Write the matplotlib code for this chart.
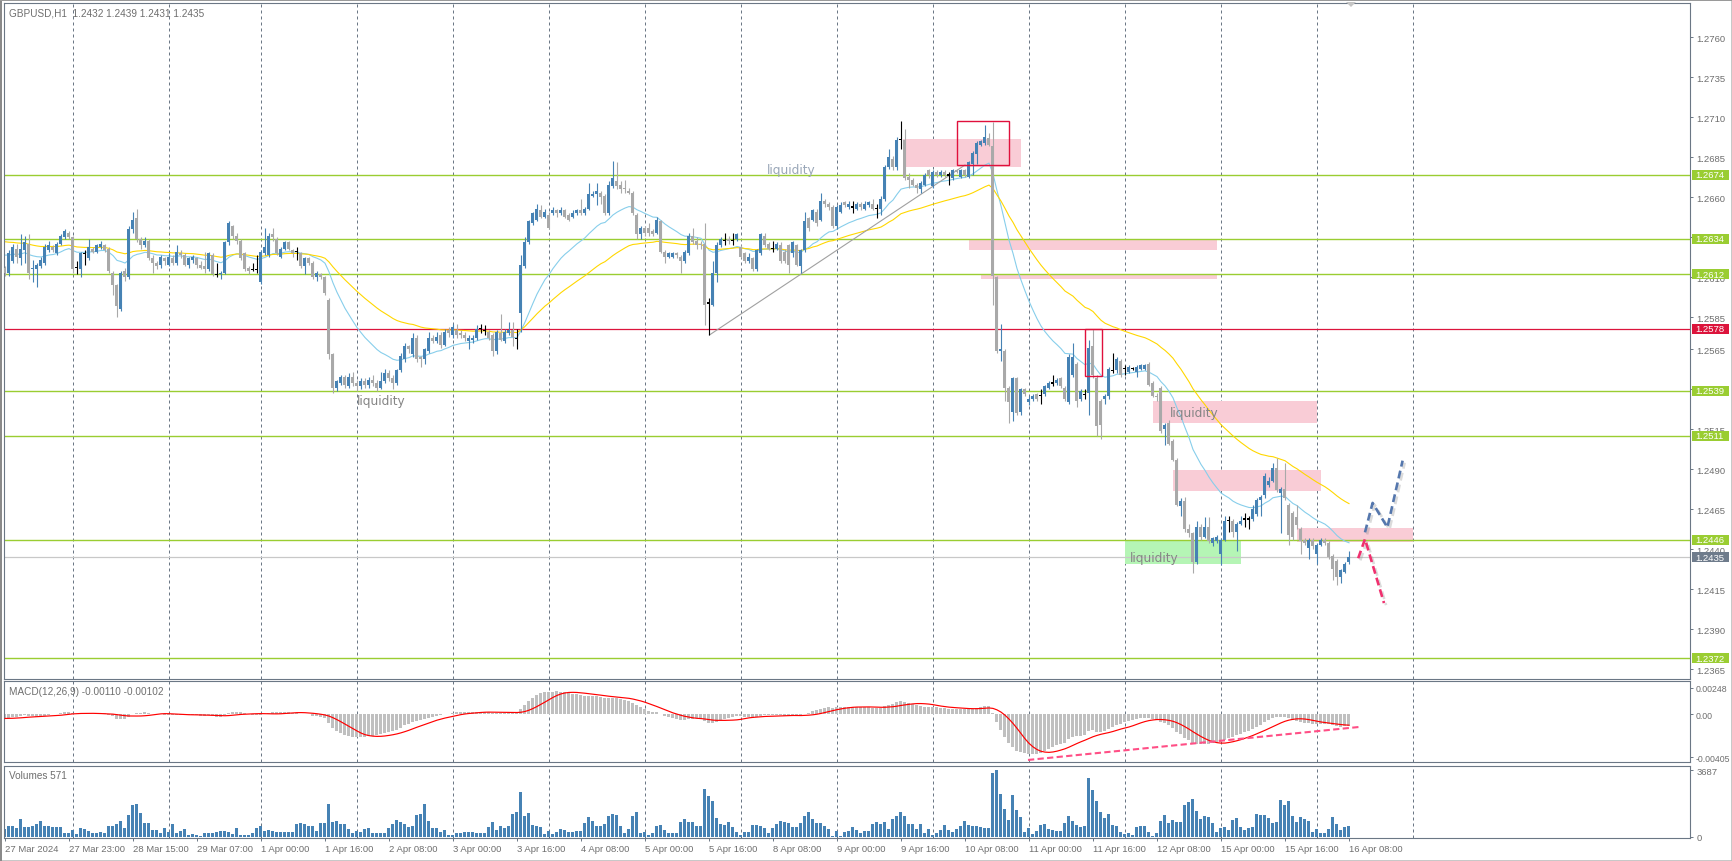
import numpy as np
import matplotlib
matplotlib.use("Agg")
import matplotlib.pyplot as plt
import matplotlib.transforms as mtransforms
from matplotlib.patches import Rectangle, Polygon
import matplotlib.patheffects as pe

plt.rcParams['font.family'] = ['Liberation Sans', 'DejaVu Sans']

W, H = 1733, 862
BASE = 1.2400
PIP = 0.0001
FS = 6.8

# ---------------- data (pips above 1.2400), one H1 bar per entry ----------------
open_pips = [
    216,213,220,228,222,227,231,215,215,217, 219,227,229,225,231,235,238,235,216,215,
    225,222,228,226,229,230,228,213,205,190, 214,210,240,247,234,230,233,222,219,218,
    222,218,222,219,225,224,218,221,222,218, 217,215,224,212,212,213,232,242,236,233,
    225,216,215,215,207,225,224,237,234,223, 228,232,227,226,225,217,222,219,210,212,
    210,196,162,141,144,148,142,148,144,142, 145,143,146,144,141,145,150,147,144,152,
    159,167,162,172,160,159,164,172,170,174, 168,177,174,177,175,174,170,171,172,178,
    177,176,174,164,175,170,175,177,172,188, 217,232,244,246,252,248,249,250,252,250,
    252,249,248,250,252,250,253,261,262,263, 261,250,267,270,268,266,264,263,249,237,
    241,241,239,238,245,226,223,223,225,223, 220,225,236,233,231,231,194,193,213,230,
    233,234,233,234,229,225,220,222,215,225, 236,231,228,228,230,226,230,225,230,217,
    227,247,246,251,246,258,256,254,242,251, 257,254,254,253,256,253,255,256,253,253,
    259,279,284,279,296,296,273,271,268,265, 268,277,267,276,274,276,274,272,277,273,
    277,273,281,287,293,294,297,292,210,164, 164,141,126,147,126,140,132,134,137,136,
    137,141,144,144,147,141,132,149,156,134, 137,138,167,147,133,134,136,152,152,158,
    153,151,153,151,153,153,156,144,136,141, 115,119,108,96,67,70,53,50,32,54,
    48,54,44,45,37,46,58,58,51,56, 59,59,59,62,71,74,80,83,91,75,
    78,68,63,60,53,46,41,46,37,43, 46,44,36,33,23,26,32]

high_pips = [
    217,227,231,231,237,236,237,221,219,223, 231,233,230,232,237,240,239,236,220,226,
    227,234,229,231,233,231,229,214,206,214, 216,242,251,253,235,235,234,224,220,224,
    223,225,224,230,227,225,223,224,223,220, 226,226,225,219,214,233,245,243,238,234,
    226,217,219,224,227,241,238,241,235,229, 233,233,228,229,226,223,223,220,214,213,
    211,197,163,146,149,149,150,151,146,147, 147,148,149,146,151,153,152,149,153,163,
    169,168,175,174,161,166,176,174,176,176, 178,179,181,181,177,176,174,174,180,181,
    180,177,175,177,187,178,182,182,178,224, 235,246,251,256,255,253,251,254,253,254,
    253,250,252,253,259,254,269,264,269,264, 262,270,283,282,270,271,266,264,250,242,
    242,244,240,248,246,227,226,226,226,224, 227,238,241,235,233,244,197,220,232,235,
    238,236,238,238,230,226,225,223,228,238, 238,232,233,232,232,228,231,233,231,228,
    251,248,253,253,263,259,257,255,255,257, 258,258,258,257,257,258,258,259,256,261,
    280,290,286,298,308,303,275,272,269,270, 275,278,277,277,277,277,276,278,278,278,
    278,283,289,295,296,305,300,307,211,181, 165,142,148,148,141,141,136,137,138,140,
    143,145,149,147,148,142,162,169,157,140, 140,171,178,149,134,137,154,163,160,159,
    155,155,154,155,156,156,157,145,138,142, 119,121,109,97,72,73,56,51,58,56,
    60,60,48,49,47,61,61,59,57,61, 63,61,68,72,74,88,85,94,97,79,
    94,69,64,68,54,47,47,47,44,47, 47,45,37,34,28,32,39]

low_pips = [
    211,211,219,219,218,219,209,207,204,216, 218,226,226,224,230,234,234,213,212,210,
    218,221,225,225,228,226,213,199,185,189, 208,209,238,232,228,229,221,213,215,216,
    218,217,218,218,222,217,216,219,216,215, 213,214,211,210,209,212,230,234,231,221,
    214,212,214,213,206,224,223,233,224,222, 227,227,223,221,216,212,218,209,208,209,
    199,159,138,139,143,141,141,142,139,140, 141,141,142,139,140,144,145,140,143,151,
    157,163,160,157,154,156,163,169,169,166, 167,173,172,172,172,170,165,169,171,175,
    174,171,161,162,170,169,174,167,165,176, 216,231,243,245,247,247,240,249,248,249,
    247,245,247,249,249,249,252,260,255,256, 249,249,266,265,263,263,262,249,234,234,
    236,236,236,237,225,219,222,222,222,213, 219,224,231,228,228,180,174,192,207,229,
    230,231,230,233,222,219,219,214,214,224, 229,227,226,227,219,219,213,223,217,213,
    226,239,245,242,245,254,252,241,240,250, 254,253,250,252,252,252,254,252,247,249,
    258,278,277,277,290,271,266,267,263,263, 267,272,266,273,273,273,268,271,275,272,
    273,272,274,281,292,293,292,193,163,158, 133,119,120,124,124,136,130,133,133,131,
    136,140,142,143,141,133,131,148,129,133, 134,124,147,111,109,131,134,150,150,148,
    149,150,152,148,152,152,142,135,133,113, 105,105,95,67,61,51,48,25,31,46,
    47,44,42,44,30,45,51,48,39,55, 54,53,58,61,61,72,79,82,76,50,
    71,43,46,53,37,43,34,40,31,42, 43,34,21,18,19,25,31]

close_pips = [
    213,225,229,223,228,232,213,216,218,221, 229,230,227,231,236,239,235,215,216,225,
    225,229,226,230,231,227,214,205,192,213, 210,240,246,234,230,233,222,219,217,223,
    220,223,219,226,224,218,222,223,218,216, 215,225,212,212,213,232,244,236,233,222,
    215,214,215,215,226,229,236,235,225,228, 232,228,225,226,217,222,219,210,213,210,
    200,162,141,145,148,143,148,144,142,145, 143,146,144,141,145,150,147,144,152,161,
    167,165,172,159,159,165,172,170,173,168, 176,175,179,174,174,172,172,172,178,178,
    177,172,164,176,171,176,177,173,172,218, 232,245,250,253,248,251,241,252,250,252,
    248,246,250,252,250,253,262,262,264,260, 250,268,272,267,265,265,263,250,237,241,
    238,238,237,246,226,223,225,225,224,220, 226,236,232,230,230,193,194,213,230,234,
    233,233,233,237,223,220,223,215,227,237, 230,228,228,231,220,220,218,232,218,227,
    245,241,252,244,258,256,254,242,254,255, 255,256,254,256,254,256,257,253,253,259,
    279,285,279,296,296,272,271,268,266,269, 274,274,276,274,276,274,274,277,276,277,
    274,282,288,294,295,298,293,211,164,165, 141,132,147,125,140,137,134,136,134,136,
    142,144,144,146,142,134,160,160,133,139, 137,166,149,117,118,136,153,152,159,149,
    153,154,153,154,155,155,143,136,135,114, 118,106,96,68,70,53,50,32,54,48,
    54,45,47,48,46,58,58,51,56,58, 59,59,65,71,73,86,83,91,77,78,
    72,49,48,55,45,44,46,42,43,46, 44,35,28,23,27,31,35]

volumes = [
    410,605,605,449,995,546,546,605,702,839, 605,566,507,546,546,176,215,351,117,468,
    410,312,215,176,254,215,605,605,683,839, 468,1190,1736,1775,1287,761,761,351,351,176,
    468,273,702,176,312,410,78,117,78,40, 215,215,215,273,312,312,254,117,468,78,
    78,78,215,468,566,312,371,312,254,254, 254,254,254,702,761,702,605,605,312,761,
    741,1814,800,839,702,702,410,215,312,254, 410,468,215,215,215,215,468,702,897,800,
    702,546,566,1190,1248,1775,839,468,468,254, 371,78,98,215,215,273,273,254,215,176,
    215,552,791,368,570,478,589,1251,1343,2466, 1122,1306,644,607,552,147,294,147,239,423,
    368,276,239,331,331,754,1067,846,589,589, 699,1141,1251,1196,589,202,423,1122,1343,202,
    239,92,202,589,644,368,202,202,202,791, 975,791,791,589,589,2631,2245,1987,1030,699,
    644,791,552,239,92,239,239,644,644,589, 478,221,460,699,846,791,754,552,552,754,
    1141,1380,994,754,754,607,442,55,313,55, 276,313,515,368,221,313,331,699,810,699,
    810,442,975,1159,1362,1159,699,699,405,699, 184,405,74,202,386,644,368,258,442,607,
    865,644,589,570,515,478,478,3514,3687,2355, 1527,920,2300,1472,1086,258,478,147,313,644,
    699,423,350,313,313,754,1141,865,644,552, 589,3238,2576,1969,1362,1030,1251,644,570,258,
    147,202,92,552,589,589,258,37,202,865, 1196,754,920,810,810,1748,1914,2079,1417,975,
    1141,1086,754,258,478,534,368,920,1030,534, 368,478,534,1251,1196,1196,1030,754,810,2024,
    1748,1969,1141,810,1086,975,865,258,423,202, 202,423,1086,699,368,534,571]

ema20_start, ema50_start = 225, 233
ema12_start, ema26_start = 221, 225
macd_prehistory = -0.0004

# x-axis labels (every 16 bars) and day-start grid lines (bar index)
label_idx = list(range(0, 337, 16))
date_labels = ["27 Mar 2024", "27 Mar 23:00", "28 Mar 15:00", "29 Mar 07:00", "1 Apr 00:00",
               "1 Apr 16:00", "2 Apr 08:00", "3 Apr 00:00", "3 Apr 16:00", "4 Apr 08:00",
               "5 Apr 00:00", "5 Apr 16:00", "8 Apr 08:00", "9 Apr 00:00", "9 Apr 16:00",
               "10 Apr 08:00", "11 Apr 00:00", "11 Apr 16:00", "12 Apr 08:00", "15 Apr 00:00",
               "15 Apr 16:00", "16 Apr 08:00"]
day_starts = [17, 41, 64, 88, 112, 136, 160, 184, 208, 232, 256, 280, 304, 328, 352]

price_ticks = [1.2760, 1.2735, 1.2710, 1.2685, 1.2660, 1.2635, 1.2610, 1.2585, 1.2565,
               1.2540, 1.2515, 1.2490, 1.2465, 1.2440, 1.2415, 1.2390, 1.2365]
green_levels = [1.2674, 1.2634, 1.2612, 1.2539, 1.2511, 1.2446, 1.2372]
red_level = 1.2578
current_price = 1.2435
macd_ticks = [0.00248, 0.0, -0.00405]
macd_ticklabels = ["0.00248", "0.00", "-0.00405"]
vol_ticks = [3687, 0]

# zones: (bar from, bar to, price low, price high)
pink_zones = [(224.5, 254.0, 1.267894, 1.269644),
              (241.0, 302.9, 1.262725, 1.263375),
              (244.0, 302.9, 1.260894, 1.261188),
              (287.1, 327.9, 1.251894, 1.253269),
              (292.0, 328.9, 1.247644, 1.248956),
              (323.0, 352.1, 1.244438, 1.245331)]
green_zone = (280.1, 308.9, 1.243081, 1.244500)
red_boxes = [(238.1, 251.1, 1.268000, 1.270750),
             (270.1, 274.2, 1.254850, 1.257769)]
trend_x, trend_y = [176.1, 240.0], [1.257394, 1.268019]
proj_up_x, proj_up_y = [340.0, 341.9, 345.6, 349.4], [1.24506, 1.24690, 1.24537, 1.24954]
proj_dn_x, proj_dn_y = [338.3, 340.0, 344.75], [1.24344, 1.24464, 1.24064]
macd_div_x, macd_div_y = [255.75, 338.5], [-0.00433, -0.00121]
liq_labels = [(190.4, 1.26771, '#9aa7b8'), (88.0, 1.25333, '#858585'),
              (291.3, 1.25256, '#858585'), (281.3, 1.24346, '#858585')]

# ---------------- derived series ----------------
n = min(len(open_pips), len(high_pips), len(low_pips), len(close_pips), len(volumes))
idx = np.arange(n)
O = BASE + np.array(open_pips[:n]) * PIP
Hh = BASE + np.array(high_pips[:n]) * PIP
L = BASE + np.array(low_pips[:n]) * PIP
C = BASE + np.array(close_pips[:n]) * PIP
V = np.array(volumes[:n], dtype=float)


def ema(vals, period, start):
    k = 2.0 / (period + 1)
    e = start
    out = []
    for v in vals:
        e = e + k * (v - e)
        out.append(e)
    return np.array(out)


ema20 = ema(C, 20, BASE + ema20_start * PIP)
ema50 = ema(C, 50, BASE + ema50_start * PIP)
macd = ema(C, 12, BASE + ema12_start * PIP) - ema(C, 26, BASE + ema26_start * PIP)
padded = np.concatenate([np.full(8, macd_prehistory), macd])
signal = np.convolve(padded, np.ones(9) / 9.0, mode='valid')

# ---------------- figure ----------------
fig = plt.figure(figsize=(W / 100, H / 100), dpi=100)
fig.patch.set_facecolor('white')


def rect_px(top, bottom, left=4, right=1690):
    return [left / W, 1 - bottom / H, (right - left) / W, (bottom - top) / H]


ax = fig.add_axes(rect_px(4, 680))
axm = fig.add_axes(rect_px(682, 763))
axv = fig.add_axes(rect_px(767, 839))

FRAME = '#6b7785'
TXT = '#6e6e6e'
BULL = '#4682B4'
BEAR = '#A9A9A9'
XMIN, XMAX = -0.25, 421.25

for a in (ax, axm, axv):
    a.set_facecolor('white')
    for s in a.spines.values():
        s.set_color(FRAME)
        s.set_linewidth(0.8)
    for d in day_starts:
        a.axvline(d, color=FRAME, lw=0.72, ls=(0, (3, 3)), zorder=0.5)
    a.tick_params(axis='x', which='both', bottom=False, top=False, labelbottom=False)
    a.yaxis.tick_right()
    a.tick_params(axis='y', direction='out', length=2.5, width=0.7, color=FRAME,
                  labelsize=FS, labelcolor=TXT, pad=2.3)

# zones
for x0, x1, p0, p1 in pink_zones:
    ax.add_patch(Rectangle((x0, p0), x1 - x0, p1 - p0, fc='#F9CCD6', ec='none', zorder=0.8))
gx0, gx1, gp0, gp1 = green_zone
ax.add_patch(Rectangle((gx0, gp0), gx1 - gx0, gp1 - gp0, fc='#B5F5B5', ec='none', zorder=0.8))

# horizontal levels
for lv in green_levels:
    ax.axhline(lv, color='#9ACD32', lw=1.0, zorder=1)
ax.axhline(red_level, color='#DC143C', lw=0.9, zorder=1)
ax.axhline(current_price, color='#C8C8C8', lw=0.9, zorder=1)

# moving averages
ax.plot(idx, ema20, color='#87CEEB', lw=0.8, zorder=2)
ax.plot(idx, ema50, color='#FFD700', lw=0.8, zorder=2)
ax.plot(trend_x, trend_y, color='#A0A0A0', lw=0.8, zorder=2)

# candles
cols = np.where(C > O, BULL, np.where(C < O, BEAR, '#000000'))
min_h = 1.2 / 16000
heights = np.maximum(np.abs(C - O), min_h)
bottoms = np.where(C == O, O - min_h / 2, np.minimum(O, C))
ax.vlines(idx, L, Hh, colors=cols, lw=0.8, zorder=3)
ax.bar(idx, heights, bottom=bottoms, width=0.75, color=cols, lw=0, zorder=3.1)

# red outline boxes
for x0, x1, p0, p1 in red_boxes:
    ax.add_patch(Rectangle((x0, p0), x1 - x0, p1 - p0, fill=False, ec='#E0103C', lw=1.0, zorder=4))

# liquidity labels
for lx, ly, lc in liq_labels:
    ax.text(lx, ly, 'liquidity', color=lc, fontsize=8.7, family='DejaVu Sans',
            va='center', ha='left', zorder=5)

# projections
shadow = [pe.SimpleLineShadow(offset=(1.5, -1.5), shadow_color='#888888', alpha=0.3), pe.Normal()]
ax.plot(proj_up_x, proj_up_y, color='#5577AD', lw=1.9, ls=(0, (3, 1.6)), zorder=6,
        path_effects=shadow)
ax.plot(proj_dn_x, proj_dn_y, color='#F0306E', lw=1.9, ls=(0, (3, 1.6)), zorder=6,
        path_effects=shadow)

# price axis
ax.set_yticks(price_ticks)
ax.set_yticklabels([f"{t:.4f}" for t in price_ticks])

blend = mtransforms.blended_transform_factory(fig.transFigure, ax.transData)


def marker(price, color):
    hh = 10 / 16000
    ax.add_patch(Rectangle((1692 / W, price - hh / 2), 37 / W, hh, transform=blend,
                           fc=color, ec='none', zorder=20, clip_on=False))
    ax.text(1695.5 / W, price, f"{price:.4f}", transform=blend, color='white', fontsize=FS,
            va='center', ha='left', zorder=21, clip_on=False)


for lv in green_levels:
    marker(lv, '#9ACD32')
marker(red_level, '#DC143C')
marker(current_price, '#6E7B8B')

ax.set_xlim(XMIN, XMAX)
ax.set_ylim(1.235894, 1.278144)

# MACD panel
axm.bar(idx, macd, width=0.75, color='#C0C0C0', lw=0, zorder=2)
axm.plot(idx, signal, color='#FF0000', lw=0.85, zorder=3)
axm.plot(macd_div_x, macd_div_y, color='#FF4F86', lw=1.5, ls=(0, (3, 1.6)), zorder=4)
axm.set_xlim(XMIN, XMAX)
axm.set_ylim(-0.004523, 0.003142)
axm.set_yticks(macd_ticks)
axm.set_yticklabels(macd_ticklabels)
axm.tick_params(axis='y', labelsize=6.3, pad=1.6)

# Volume panel
axv.bar(idx, V, width=0.75, color=BULL, lw=0, zorder=2)
axv.set_xlim(XMIN, XMAX)
axv.set_ylim(-83, 3909)
axv.set_yticks(vol_ticks)
axv.set_yticklabels([str(v) for v in vol_ticks])
axv.set_xticks(label_idx)
axv.set_xticklabels(date_labels)
axv.tick_params(axis='x', bottom=True, labelbottom=True, direction='out', length=2.5,
                width=0.7, color=FRAME, labelsize=FS, labelcolor=TXT, pad=1.5)
for lab in axv.get_xticklabels():
    lab.set_ha('left')

# panel titles
fig.text(9 / W, 1 - 13 / H, "GBPUSD,H1  1.2432 1.2439 1.2431 1.2435", fontsize=7.2,
         color=TXT, va='center', ha='left')
fig.text(9 / W, 1 - 692 / H, "MACD(12,26,9) -0.00110 -0.00102", fontsize=7.2,
         color=TXT, va='center', ha='left')
fig.text(9 / W, 1 - 776 / H, "Volumes 571", fontsize=7.2, color=TXT, va='center', ha='left')

# chart-shift marker and window border
fig.add_artist(Polygon([[1346 / W, 1 - 3 / H], [1356 / W, 1 - 3 / H], [1351 / W, 1 - 8 / H]],
                       closed=True, transform=fig.transFigure, fc='#C4C4C4', ec='none'))
fig.add_artist(Rectangle((0.5 / W, 0.5 / H), 1 - 1.5 / W, 1 - 1.5 / H, transform=fig.transFigure,
                         fill=False, ec='#BDBDBD', lw=1.2))
fig.add_artist(Rectangle((0, 0), 2 / W, 1, transform=fig.transFigure, fc='#8A8A8A', ec='none'))
fig.add_artist(Rectangle((0, 1 - 2 / H), 1, 2 / H, transform=fig.transFigure, fc='#9A9A9A', ec='none'))

fig.savefig('out.png', dpi=100, facecolor='white')
